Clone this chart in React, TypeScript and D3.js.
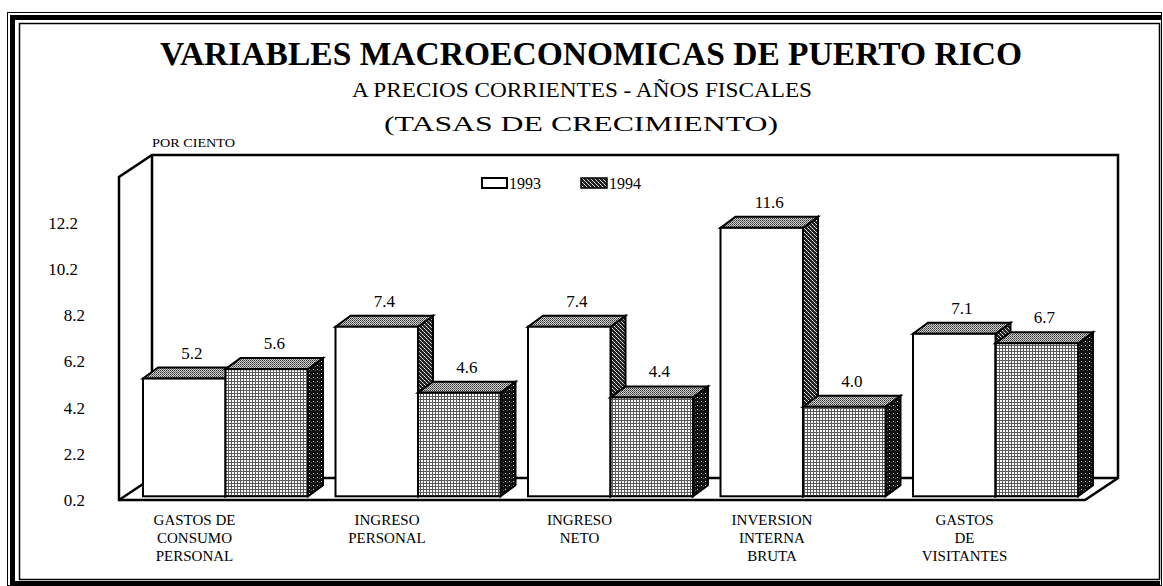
import React from "react";
import * as d3 from "d3";

const categories = ["GASTOS DE CONSUMO PERSONAL", "INGRESO PERSONAL", "INGRESO NETO", "INVERSION INTERNA BRUTA", "GASTOS DE VISITANTES"];
const categoryLines = [
  ["GASTOS DE", "CONSUMO", "PERSONAL"],
  ["INGRESO", "PERSONAL"],
  ["INGRESO", "NETO"],
  ["INVERSION", "INTERNA", "BRUTA"],
  ["GASTOS", "DE", "VISITANTES"],
];
const series = ["1993", "1994"];
const values1993 = [5.2, 7.4, 7.4, 11.6, 7.1];
const values1994 = [5.6, 4.6, 4.4, 4.0, 6.7];
const yTicks = [0.2, 2.2, 4.2, 6.2, 8.2, 10.2, 12.2];

const FF = '"Liberation Serif", "Times New Roman", Tinos, "Nimbus Roman", FreeSerif, "DejaVu Serif", serif';

export default function App() {
  const W = 1163, H = 586;
  const x = d3.scaleBand<string>().domain(categories).range([143, 1078]).paddingInner(27.5 / 192.5).paddingOuter(0);
  const xs = d3.scaleBand<string>().domain(series).range([0, x.bandwidth()]);
  const yBar = d3.scaleLinear().domain([0, 12.2]).range([501, 213.7]);
  const yTick = d3.scaleLinear().domain([0.2, 12.2]).range([500, 223]);
  const base = yTicks[0];
  const dx = 15, dy = -11;

  const fl = 119, fr = 1085, fy = 500, wdx = 33, wdy = -22, wallTop = 155;
  const bl = fl + wdx, br = fr + wdx, by = fy + wdy;

  const bars: any[] = [];
  const labels: any[] = [];
  categories.forEach((c, i) => {
    const vals = [values1993[i], values1994[i]];
    series.forEach((s, j) => {
      const x0 = (x(c) as number) + (xs(s) as number);
      const x1 = x0 + xs.bandwidth();
      const yt = yBar(vals[j]);
      const yb = yBar(base);
      const topPts = [[x0, yt], [x0 + dx, yt + dy], [x1 + dx, yt + dy], [x1, yt]];
      const sidePts = [[x1, yt], [x1 + dx, yt + dy], [x1 + dx, yb + dy], [x1, yb]];
      bars.push(
        <g key={c + s}>
          <polygon points={sidePts.map((p) => p.join(",")).join(" ")} fill={j === 0 ? "url(#side93)" : "url(#side94)"} stroke="#000" strokeWidth={2} strokeLinejoin="miter" />
          <polygon points={topPts.map((p) => p.join(",")).join(" ")} fill="url(#topPat)" stroke="#000" strokeWidth={2} strokeLinejoin="miter" />
          <rect x={x0} y={yt} width={x1 - x0} height={yb - yt} fill={j === 0 ? "#fff" : "url(#front94)"} stroke="#000" strokeWidth={2} />
        </g>
      );
      labels.push(
        <text key={c + s + "l"} x={(x0 + x1) / 2 + dx / 2} y={yt + dy - 9} textAnchor="middle" fontSize={17}>{vals[j].toFixed(1)}</text>
      );
    });
  });

  return (
    <svg width={W} height={H} style={{ position: "absolute", left: 0, top: 0, background: "#fff", fontFamily: FF }}>
      <style>{`text { font-family: ${FF}; }`}</style>
      <defs>
        <pattern id="front94" patternUnits="userSpaceOnUse" width={3} height={3}>
          <rect width={3} height={3} fill="#fff" />
          <rect width={3} height={1} fill="#5a5a5a" />
          <rect width={1} height={3} fill="#5a5a5a" />
        </pattern>
        <pattern id="topPat" patternUnits="userSpaceOnUse" width={2} height={2}>
          <rect width={2} height={2} fill="#d0d0d0" />
          <rect x={0} y={0} width={1} height={1} fill="#333" />
          <rect x={1} y={1} width={1} height={1} fill="#666" />
        </pattern>
        <pattern id="side94" patternUnits="userSpaceOnUse" width={4} height={4}>
          <rect width={4} height={4} fill="#111" />
          <rect x={1} y={1} width={1} height={1} fill="#ccc" />
          <rect x={3} y={2} width={1} height={1} fill="#666" />
        </pattern>
        <pattern id="side93" patternUnits="userSpaceOnUse" width={4} height={4}>
          <rect width={4} height={4} fill="#222" />
          <rect x={0} y={0} width={1} height={1} fill="#eee" />
          <rect x={1} y={1} width={1} height={1} fill="#bbb" />
          <rect x={2} y={2} width={1} height={1} fill="#eee" />
          <rect x={3} y={3} width={1} height={1} fill="#bbb" />
        </pattern>
      </defs>

      <rect x={7.5} y={12.5} width={1154} height={573} fill="none" stroke="#000" strokeWidth={1} />
      <path d={`M12.5,583 L12.5,17.5 L1162,17.5`} fill="none" stroke="#000" strokeWidth={5} />
      <path d={`M10,583 L1160,583`} fill="none" stroke="#000" strokeWidth={4} />
      <rect x={19.5} y={23.5} width={1140} height={556} fill="none" stroke="#000" strokeWidth={1.5} />

      <text x={591} y={65} textAnchor="middle" fontSize={33} fontWeight="bold" textLength={862} lengthAdjust="spacingAndGlyphs">VARIABLES MACROECONOMICAS DE PUERTO RICO</text>
      <text x={582} y={97} textAnchor="middle" fontSize={22} textLength={460} lengthAdjust="spacingAndGlyphs">A PRECIOS CORRIENTES - AÑOS FISCALES</text>
      <text x={581} y={131} textAnchor="middle" fontSize={22} textLength={394} lengthAdjust="spacingAndGlyphs">(TASAS DE CRECIMIENTO)</text>
      <text x={152} y={147} fontSize={13} textLength={83} lengthAdjust="spacingAndGlyphs">POR CIENTO</text>

      <g fill="none" stroke="#000" strokeWidth={2.5} strokeLinejoin="miter">
        <path d={`M${fl},${fy} L${fl},${wallTop - wdy} L${bl},${wallTop} L${br},${wallTop} L${br},${by} L${fr},${fy} Z`} fill="#fff" />
        <path d={`M${bl},${wallTop} L${bl},${by} L${br},${by}`} />
        <path d={`M${fl},${fy} L${bl},${by}`} />
      </g>

      <rect x={482} y={178} width={25} height={10} fill="#fff" stroke="#000" strokeWidth={2} />
      <text x={509} y={189} fontSize={16}>1993</text>
      <rect x={581} y={178} width={26} height={10} fill="url(#side93)" stroke="#000" strokeWidth={1.5} />
      <text x={609} y={189} fontSize={16}>1994</text>

      {yTicks.map((t) => (
        <text key={t} x={t >= 10 ? 78 : 85} y={yTick(t)} dy="0.35em" textAnchor="end" fontSize={17}>{t.toFixed(1)}</text>
      ))}

      {bars}
      {labels}

      {categories.map((c, i) => (
        <text key={c} textAnchor="middle" fontSize={15}>
          {categoryLines[i].map((ln, k) => (
            <tspan key={k} x={(x(c) as number) + x.bandwidth() / 2 - 31} y={525 + k * 18}>{ln}</tspan>
          ))}
        </text>
      ))}
    </svg>
  );
}
